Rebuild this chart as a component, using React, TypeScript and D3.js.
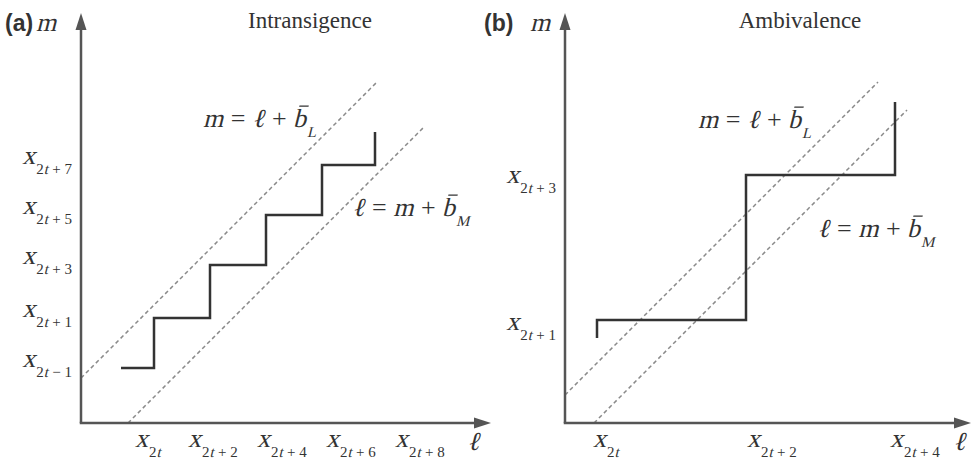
import React from 'react';
import * as d3 from 'd3';

// panel (a) Intransigence: staircase corners (step after), in axis units
const stairA_l = [4.0, 7.3, 12.9, 18.5, 24.1, 29.4];
const stairA_m = [5.5, 10.5, 15.8, 20.8, 25.8, 29.1];
// panel (b) Ambivalence: staircase corners (step before)
const stairB_l = [3.2, 18.1, 33.0, 33.0];
const stairB_m = [8.5, 10.3, 24.8, 32.1];

// offsets of the dashed boundary lines and where they end
const bL = [4.5, 2.8];
const bM = [4.7, 2.9];
const lineL_end = [29.6, 31.3];
const lineM_end = [29.7, 31.3];

// tick labels
const xTicksA = [5.4, 10.7, 17.6, 24.5, 31.4];
const xSubsA = ['2t', '2t + 2', '2t + 4', '2t + 6', '2t + 8'];
const yTicksA = [5.5, 10.5, 15.8, 20.8, 25.8];
const ySubsA = ['2t \u2212 1', '2t + 1', '2t + 3', '2t + 5', '2t + 7'];
const xTicksB = [2.8, 18.2, 32.5];
const xSubsB = ['2t', '2t + 2', '2t + 4'];
const yTicksB = [9.2, 23.9];
const ySubsB = ['2t + 1', '2t + 3'];

const titles = ['Intransigence', 'Ambivalence'];
const letters = ['(a)', '(b)'];

const W = 972;
const H = 459;
const SERIF = 'Liberation Serif';
const TEXT = '#333';
const BIG = 25;
const SMALL = 15;

// no serif italic face is installed, so italics are upright glyphs skewed
type Seg = { t: string; it?: boolean; size: number; dy?: number; bar?: boolean };

const ctx = document.createElement('canvas').getContext('2d')!;
function textW(t: string, size: number) {
  ctx.font = `${size}px "${SERIF}"`;
  return ctx.measureText(t).width;
}

function Rich({ x, y, segs, anchor = 'start' }: { x: number; y: number; segs: Seg[]; anchor?: string }) {
  const widths = segs.map(s => textW(s.t, s.size) + (s.it ? s.size * 0.04 : 0));
  const total = d3.sum(widths);
  let cx = anchor === 'end' ? x - total : anchor === 'middle' ? x - total / 2 : x;
  return (
    <g>
      {segs.map((s, i) => {
        const px = cx;
        cx += widths[i];
        const py = y + (s.dy ?? 0);
        return (
          <g key={i} transform={`translate(${px},${py})${s.it ? ' skewX(-14)' : ''}`}>
            <text fontFamily={SERIF} fontSize={s.size} fill={TEXT} style={{ whiteSpace: 'pre' }}>
              {s.t}
            </text>
            {s.bar && (
              <line
                x1={s.size * 0.04} x2={s.size * 0.4}
                y1={-s.size * 0.8} y2={-s.size * 0.8}
                stroke={TEXT} strokeWidth={1.3}
              />
            )}
          </g>
        );
      })}
    </g>
  );
}

function subSegs(s: string): Seg[] {
  // "2t + 7" -> 2, italic t, rest
  const out: Seg[] = [
    { t: s[0], size: SMALL, dy: 10 },
    { t: s[1], it: true, size: SMALL, dy: 10 },
  ];
  if (s.length > 2) out.push({ t: s.slice(2), size: SMALL, dy: 10 });
  return out;
}

function xLabel(sub: string): Seg[] {
  return [{ t: 'x', it: true, size: BIG + 1 }, ...subSegs(sub)];
}

function equation(lhs: string, rhs: string, sub: string): Seg[] {
  return [
    { t: lhs, it: true, size: BIG + 1 },
    { t: ' = ', size: BIG + 1 },
    { t: rhs, it: true, size: BIG + 1 },
    { t: ' + ', size: BIG + 1 },
    { t: 'b', it: true, size: BIG + 1, bar: true },
    { t: sub, it: true, size: SMALL, dy: 10 },
  ];
}

type PanelProps = {
  idx: number;
  x0: number;
  x1: number;
  xMax: number;
  stairL: number[];
  stairM: number[];
  curve: d3.CurveFactory;
  xTicks: number[];
  xSubs: string[];
  yTicks: number[];
  ySubs: string[];
  titleAt: number;
  ellAt: number;
  eqL: [number, number];
  eqM: [number, number];
  letterX: number;
  mX: number;
};

function Panel(p: PanelProps) {
  const x = d3.scaleLinear().domain([0, p.xMax]).range([p.x0, p.x1]);
  const y = d3.scaleLinear().domain([0, 41]).range([423, 13]);
  const ox = x(0);
  const oy = y(0);
  const tipY = y(41);
  const tipX = x(p.xMax);

  const stair = d3.line<number>()
    .x((_, i) => x(p.stairL[i]))
    .y((_, i) => y(p.stairM[i]))
    .curve(p.curve);

  const seg = d3.line<[number, number]>().x(d => x(d[0])).y(d => y(d[1]));
  const upper: [number, number][] = [[0, bL[p.idx]], [lineL_end[p.idx], lineL_end[p.idx] + bL[p.idx]]];
  const lower: [number, number][] = [[bM[p.idx], 0], [lineM_end[p.idx] + bM[p.idx], lineM_end[p.idx]]];

  const axisColor = '#555';
  return (
    <g>
      <text x={p.letterX} y={31} fontFamily="Liberation Sans" fontWeight="bold" fontSize={23} fill={TEXT}>
        {letters[p.idx]}
      </text>
      <Rich x={p.mX} y={31} segs={[{ t: 'm', it: true, size: BIG + 1 }]} />
      <text x={x(p.titleAt)} y={28} textAnchor="middle" fontFamily={SERIF} fontSize={23} fill={TEXT}>
        {titles[p.idx]}
      </text>

      <path d={seg(upper) ?? ''} stroke="#8a8a8a" strokeWidth={1.5} strokeDasharray="4 3" fill="none" />
      <path d={seg(lower) ?? ''} stroke="#8a8a8a" strokeWidth={1.5} strokeDasharray="4 3" fill="none" />

      <path d={stair(p.stairL) ?? ''} stroke="#333" strokeWidth={2.5} fill="none" />

      {/* axes with arrowheads */}
      <line x1={ox} y1={oy} x2={ox} y2={tipY + 12} stroke={axisColor} strokeWidth={2.5} />
      <path d={`M${ox},${tipY} L${ox - 5.5},${tipY + 17} L${ox + 5.5},${tipY + 17} Z`} fill={axisColor} />
      <line x1={ox - 1.25} y1={oy} x2={tipX - 12} y2={oy} stroke={axisColor} strokeWidth={2.5} />
      <path d={`M${tipX},${oy} L${tipX - 17},${oy - 5.5} L${tipX - 17},${oy + 5.5} Z`} fill={axisColor} />

      {p.xTicks.map((t, i) => (
        <Rich key={'x' + i} x={x(t)} y={447} segs={xLabel(p.xSubs[i])} />
      ))}
      {p.yTicks.map((t, i) => (
        <Rich key={'y' + i} x={ox - 9} y={y(t) - 1} segs={xLabel(p.ySubs[i])} anchor="end" />
      ))}
      <Rich x={x(p.ellAt)} y={450} segs={[{ t: '\u2113', it: true, size: BIG + 1 }]} />

      <Rich x={x(p.eqL[0])} y={y(p.eqL[1])} segs={equation('m', '\u2113', 'L')} />
      <Rich x={x(p.eqM[0])} y={y(p.eqM[1])} segs={equation('\u2113', 'm', 'M')} />
    </g>
  );
}

export default function App() {
  return (
    <svg width={W} height={H} style={{ position: 'absolute', left: 0, top: 0, background: '#fff' }}>
      <Panel
        idx={0} x0={81} x1={491} xMax={41}
        stairL={stairA_l} stairM={stairA_m} curve={d3.curveStepAfter}
        xTicks={xTicksA} xSubs={xSubsA} yTicks={yTicksA} ySubs={ySubsA}
        titleAt={22.9} ellAt={38.6} eqL={[12.2, 29.6]} eqM={[27.1, 20.7]}
        letterX={5} mX={36}
      />
      <Panel
        idx={1} x0={565} x1={971} xMax={40.6}
        stairL={stairB_l} stairM={stairB_m} curve={d3.curveStepBefore}
        xTicks={xTicksB} xSubs={xSubsB} yTicks={yTicksB} ySubs={ySubsB}
        titleAt={23.5} ellAt={38.8} eqL={[13.3, 29.5]} eqM={[25.2, 18.6]}
        letterX={484} mX={530}
      />
    </svg>
  );
}
